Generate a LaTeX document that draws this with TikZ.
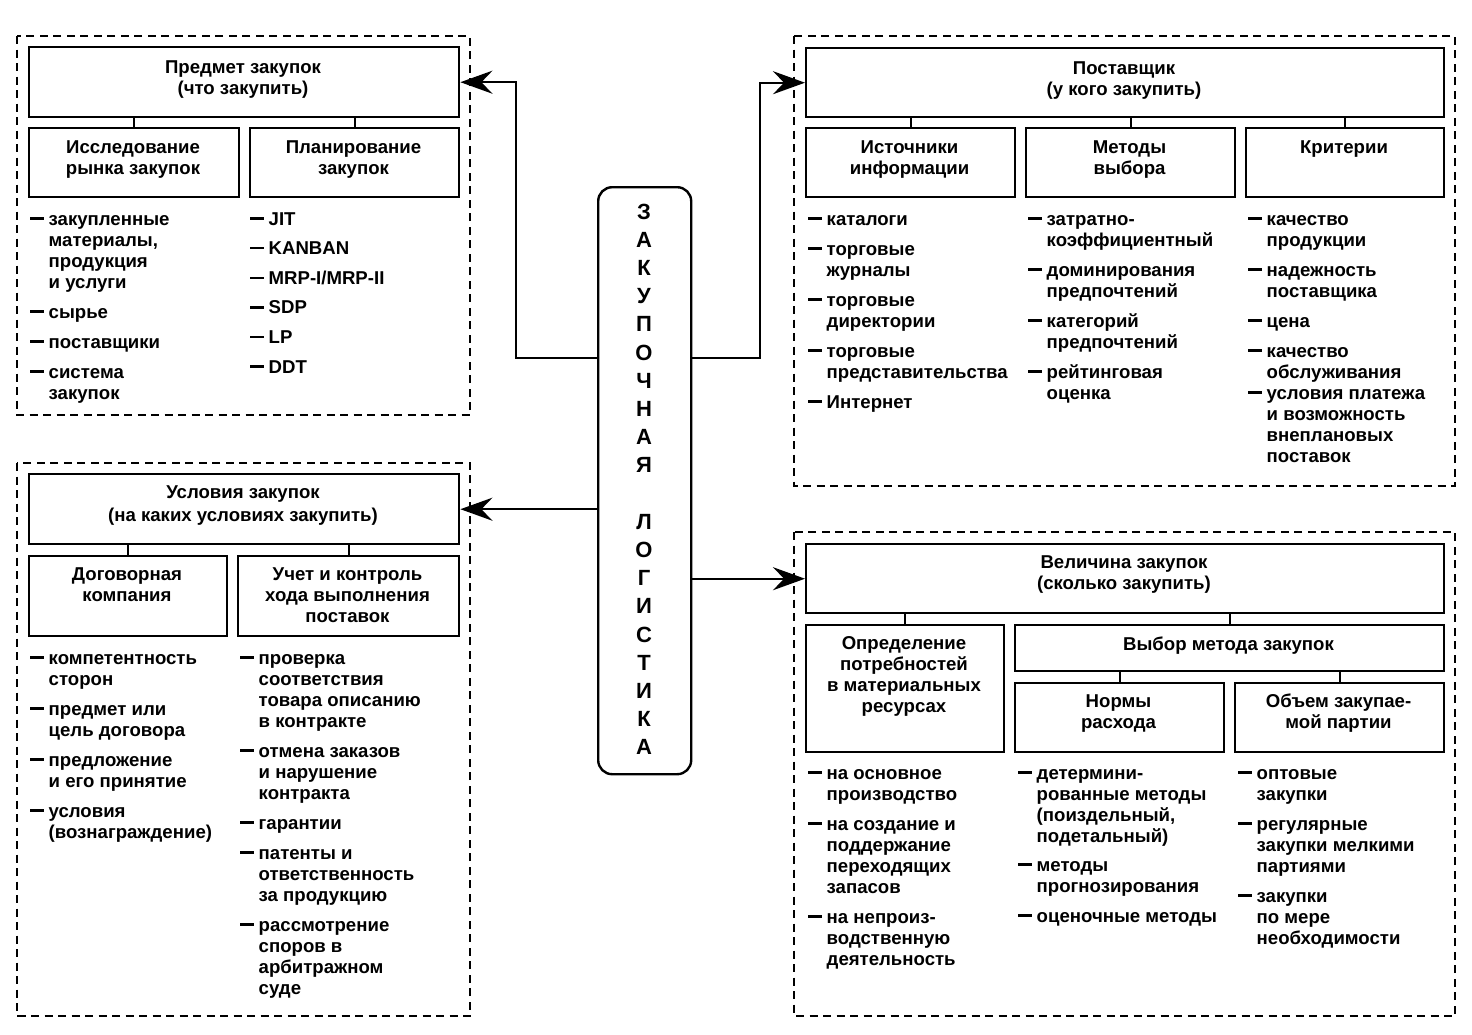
\documentclass[tikz,border=0pt]{standalone}
\usepackage{fontspec}
\setmainfont{Liberation Sans}
\usetikzlibrary{arrows.meta}
\newcommand{\fs}{\fontsize{18.6}{21}\selectfont\bfseries}
\newcommand{\dsh}{\rule[5.2pt]{14pt}{2.4pt}}
\newcommand{\ml}[1]{\begin{tabular}[t]{@{}c@{}}#1\end{tabular}}
\newcommand{\li}[1]{\begin{tabular}[t]{@{}l@{\hspace{4.5pt}}l@{}}#1\end{tabular}}
\tikzset{
 box/.style={draw, line width=2.4pt, inner sep=0pt, anchor=north west},
 btxt/.style={inner sep=0pt, anchor=base, font=\fs},
 lst/.style={inner sep=0pt, anchor=base west, font=\fs},
 grp/.style={draw, line width=2pt, dash pattern=on 8pt off 5.5pt},
 conn/.style={line width=2.4pt},
 arr/.style={conn, -{Stealth[length=32pt,width=23pt,inset=11pt]}},
}
\begin{document}
\begin{tikzpicture}[x=1pt,y=-1pt]
\fill[white] (0,0) rectangle (1472,1034);
\useasboundingbox (0,0) rectangle (1472,1034);

% dashed groups
\draw[grp] (17,36) rectangle (470,415);
\draw[grp] (794,36) rectangle (1455,486);
\draw[grp] (17,463) rectangle (470,1016);
\draw[grp] (794,532) rectangle (1455,1016);

% centre
\node[box, rounded corners=14pt, minimum width=93pt, minimum height=587pt] (zl) at (597,186) {};
\node[inner sep=0pt, anchor=base, font=\fontsize{22}{28.2}\selectfont\bfseries] (zlt) at (644,219)
 {\ml{З\\А\\К\\У\\П\\О\\Ч\\Н\\А\\Я\\ \\Л\\О\\Г\\И\\С\\Т\\И\\К\\А}};

% top-left
\node[box, minimum width=430pt, minimum height=70pt] (p1) at (28,46) {};
\node[box, minimum width=210pt, minimum height=69pt] (p1a) at (28,127) {};
\node[box, minimum width=209pt, minimum height=69pt] (p1b) at (249,127) {};
\node[btxt] (p1t) at (243,73) {\ml{Предмет закупок\\(что закупить)}};
\node[btxt] (p1at) at (133,153) {\ml{Исследование\\рынка закупок}};
\node[btxt] (p1bt) at (353.5,153) {\ml{Планирование\\закупок}};
\draw[conn] (p1a.north |- p1.south) -- (p1a.north);
\draw[conn] (p1b.north |- p1.south) -- (p1b.north);
\node[lst] (l1) at (30,225) {\li{\dsh & закупленные\\ & материалы,\\ & продукция\\ & и услуги\\[9pt]
 \dsh & сырье\\[9pt] \dsh & поставщики\\[9pt] \dsh & система\\ & закупок}};
\node[lst] (l2) at (250,225) {\li{\dsh & JIT\\[8.6pt] \dsh & KANBAN\\[8.6pt] \dsh & MRP-I/MRP-II\\[8.6pt]
 \dsh & SDP\\[8.6pt] \dsh & LP\\[8.6pt] \dsh & DDT}};

% top-right
\node[box, minimum width=638pt, minimum height=69pt] (s1) at (805,47) {};
\node[box, minimum width=209pt, minimum height=69pt] (s1a) at (805,127) {};
\node[box, minimum width=209pt, minimum height=69pt] (s1b) at (1025,127) {};
\node[box, minimum width=198pt, minimum height=69pt] (s1c) at (1245,127) {};
\node[btxt] (s1t) at (1124,74) {\ml{Поставщик\\(у кого закупить)}};
\node[btxt] (s1at) at (909.5,153) {\ml{Источники\\информации}};
\node[btxt] (s1bt) at (1129.5,153) {\ml{Методы\\выбора}};
\node[btxt] (s1ct) at (1344,153) {\ml{Критерии}};
\draw[conn] (s1a.north |- s1.south) -- (s1a.north);
\draw[conn] (s1b.north |- s1.south) -- (s1b.north);
\draw[conn] (s1c.north |- s1.south) -- (s1c.north);
\node[lst] (l3) at (808,225) {\li{\dsh & каталоги\\[9pt] \dsh & торговые\\ & журналы\\[9pt]
 \dsh & торговые\\ & директории\\[9pt] \dsh & торговые\\ & представительства\\[9pt] \dsh & Интернет}};
\node[lst] (l4) at (1028,225) {\li{\dsh & затратно-\\ & коэффициентный\\[9pt] \dsh & доминирования\\ & предпочтений\\[9pt]
 \dsh & категорий\\ & предпочтений\\[9pt] \dsh & рейтинговая\\ & оценка}};
\node[lst] (l5) at (1248,225) {\li{\dsh & качество\\ & продукции\\[9pt] \dsh & надежность\\ & поставщика\\[9pt]
 \dsh & цена\\[9pt] \dsh & качество\\ & обслуживания\\ \dsh & условия платежа\\ & и возможность\\ & внеплановых\\ & поставок}};

% bottom-left
\node[box, minimum width=430pt, minimum height=70pt] (u1) at (28,473) {};
\node[box, minimum width=198pt, minimum height=80pt] (u1a) at (28,555) {};
\node[box, minimum width=221pt, minimum height=80pt] (u1b) at (237,555) {};
\node[btxt] (u1t) at (243,498) {\ml{Условия закупок\\[2pt](на каких условиях закупить)}};
\node[btxt] (u1at) at (127,580) {\ml{Договорная\\компания}};
\node[btxt] (u1bt) at (347.5,580) {\ml{Учет и контроль\\хода выполнения\\поставок}};
\draw[conn] (u1a.north |- u1.south) -- (u1a.north);
\draw[conn] (u1b.north |- u1.south) -- (u1b.north);
\node[lst] (l6) at (30,664) {\li{\dsh & компетентность\\ & сторон\\[9pt] \dsh & предмет или\\ & цель договора\\[9pt]
 \dsh & предложение\\ & и его принятие\\[9pt] \dsh & условия\\ & (вознаграждение)}};
\node[lst] (l7) at (240,664) {\li{\dsh & проверка\\ & соответствия\\ & товара описанию\\ & в контракте\\[9pt]
 \dsh & отмена заказов\\ & и нарушение\\ & контракта\\[9pt] \dsh & гарантии\\[9pt]
 \dsh & патенты и\\ & ответственность\\ & за продукцию\\[9pt]
 \dsh & рассмотрение\\ & споров в\\ & арбитражном\\ & суде}};

% bottom-right
\node[box, minimum width=638pt, minimum height=69pt] (v1) at (805,543) {};
\node[box, minimum width=198pt, minimum height=127pt] (v1a) at (805,624) {};
\node[box, minimum width=429pt, minimum height=46pt] (v1b) at (1014,624) {};
\node[box, minimum width=209pt, minimum height=69pt] (v1c) at (1014,682) {};
\node[box, minimum width=209pt, minimum height=69pt] (v1d) at (1234,682) {};
\node[btxt] (v1t) at (1124,568) {\ml{Величина закупок\\(сколько закупить)}};
\node[btxt] (v1at) at (904,649) {\ml{Определение\\потребностей\\в материальных\\ресурсах}};
\node[btxt] (v1bt) at (1228.5,650) {\ml{Выбор метода закупок}};
\node[btxt] (v1ct) at (1118.5,707) {\ml{Нормы\\расхода}};
\node[btxt] (v1dt) at (1338.5,707) {\ml{Объем закупае-\\мой партии}};
\draw[conn] (v1a.north |- v1.south) -- (v1a.north);
\draw[conn] (v1b.north |- v1.south) -- (v1b.north);
\draw[conn] (v1c.north |- v1b.south) -- (v1c.north);
\draw[conn] (v1d.north |- v1b.south) -- (v1d.north);
\node[lst] (l8) at (808,779) {\li{\dsh & на основное\\ & производство\\[9pt] \dsh & на создание и\\ & поддержание\\ & переходящих\\ & запасов\\[9pt]
 \dsh & на непроиз-\\ & водственную\\ & деятельность}};
\node[lst] (l9) at (1018,779) {\li{\dsh & детермини-\\ & рованные методы\\ & (поиздельный,\\ & подетальный)\\[8pt]
 \dsh & методы\\ & прогнозирования\\[9pt] \dsh & оценочные методы}};
\node[lst] (l10) at (1238,779) {\li{\dsh & оптовые\\ & закупки\\[9pt] \dsh & регулярные\\ & закупки мелкими\\ & партиями\\[9pt]
 \dsh & закупки\\ & по мере\\ & необходимости}};

% connectors
\coordinate (j1) at (516,358);
\coordinate (j2) at (760,358);
\draw[arr] (zl.west |- j1) -- (j1) |- (p1.east);
\draw[arr] (zl.east |- j2) -- (j2) |- (s1.west);
\draw[arr] (zl.west |- u1.east) -- (u1.east);
\draw[arr] (zl.east |- v1.west) -- (v1.west);
\end{tikzpicture}
\end{document}
